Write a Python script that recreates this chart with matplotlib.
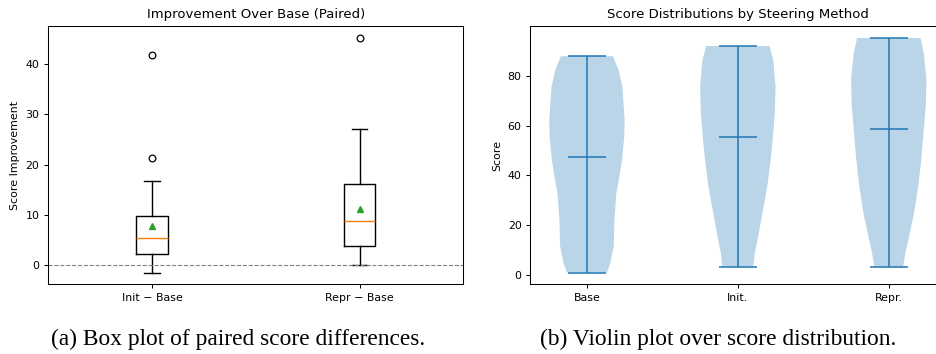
import matplotlib
matplotlib.use("Agg")
import matplotlib.pyplot as plt
import numpy as np

# --- data ---
box_labels = ["Init \u2212 Base", "Repr \u2212 Base"]
box_whislo = [-1.5, 0.0]
box_q1 = [2.1, 3.8]
box_med = [5.4, 8.8]
box_q3 = [9.7, 16.1]
box_whishi = [16.7, 27.1]
box_mean = [7.8, 11.1]
box_fliers = [[21.3, 41.9], [45.2]]

violin_labels = ["Base", "Init.", "Repr."]
violin_min = [1.0, 3.3, 3.3]
violin_max = [87.9, 92.0, 95.2]
violin_mean = [47.3, 55.3, 58.5]
# density profiles (score, relative width)
base_y = [1.0, 4.8, 11.5, 22.2, 32.9, 39.5, 46.2, 55.6, 62.2, 75.6, 82.3, 87.9]
base_w = [0.53, 0.62, 0.71, 0.73, 0.78, 0.86, 0.93, 0.99, 1.0, 0.94, 0.84, 0.69]
init_y = [3.3, 8.8, 15.5, 24.8, 35.5, 46.2, 55.6, 64.9, 75.6, 86.3, 92.0]
init_w = [0.41, 0.45, 0.54, 0.65, 0.78, 0.87, 0.93, 0.98, 1.0, 0.94, 0.84]
repr_y = [3.3, 8.8, 15.5, 24.8, 35.5, 46.2, 56.9, 67.6, 78.3, 89.0, 95.2]
repr_w = [0.38, 0.44, 0.54, 0.67, 0.78, 0.86, 0.92, 0.98, 1.0, 0.93, 0.84]

plt.rcParams["font.family"] = "DejaVu Sans"
plt.rcParams["font.size"] = 7.9
plt.rcParams["lines.linewidth"] = 0.9
plt.rcParams["axes.linewidth"] = 0.75
plt.rcParams["xtick.major.width"] = 0.75
plt.rcParams["ytick.major.width"] = 0.75
plt.rcParams["xtick.major.size"] = 2.8
plt.rcParams["ytick.major.size"] = 2.8

fig = plt.figure(figsize=(9.37, 3.54), dpi=100)
ax1 = fig.add_axes([0.0515, 0.1969, 0.4429, 0.7288])
ax2 = fig.add_axes([0.566, 0.1969, 0.4429, 0.7288])

# (a) box plot
stats = []
for i in range(len(box_labels)):
    stats.append(dict(label=box_labels[i], whislo=box_whislo[i], q1=box_q1[i],
                      med=box_med[i], q3=box_q3[i], whishi=box_whishi[i],
                      mean=box_mean[i], fliers=box_fliers[i]))
ax1.bxp(stats, widths=0.15, showmeans=True,
        flierprops=dict(markersize=4.8, markeredgewidth=0.9),
        meanprops=dict(markersize=4.8))
ax1.axhline(0, color="gray", linestyle="--", linewidth=0.8)
ax1.set_xlim(0.5, 2.5)
ax1.set_title("Improvement Over Base (Paired)", fontsize=9.5)
ax1.set_ylabel("Score Improvement")

# (b) violin plot
vpstats = []
for y, w, lo, hi, m in zip([base_y, init_y, repr_y], [base_w, init_w, repr_w],
                           violin_min, violin_max, violin_mean):
    vpstats.append(dict(coords=np.array(y), vals=np.array(w), mean=m,
                        median=m, min=lo, max=hi))
parts = ax2.violin(vpstats, positions=[1, 2, 3], widths=0.5,
                   showmeans=True, showextrema=True, showmedians=False)
for body in parts["bodies"]:
    body.set_facecolor("#1f77b4")
    body.set_edgecolor("none")
    body.set_alpha(0.3)
for key in ["cmeans", "cmins", "cmaxes", "cbars"]:
    parts[key].set_color("#1f77b4")
    parts[key].set_linewidth(1.1)
ax2.set_xticks([1, 2, 3])
ax2.set_xticklabels(violin_labels)
ax2.set_xlim(0.625, 3.375)
ax2.set_title("Score Distributions by Steering Method", fontsize=9.5)
ax2.set_ylabel("Score")

fig.text(0.2544, 0.04, "(a) Box plot of paired score differences.",
         family="Liberation Serif", fontsize=16.8, ha="center", va="center")
fig.text(0.766, 0.04, "(b) Violin plot over score distribution.",
         family="Liberation Serif", fontsize=16.8, ha="center", va="center")

fig.savefig("out.png", dpi=100)
